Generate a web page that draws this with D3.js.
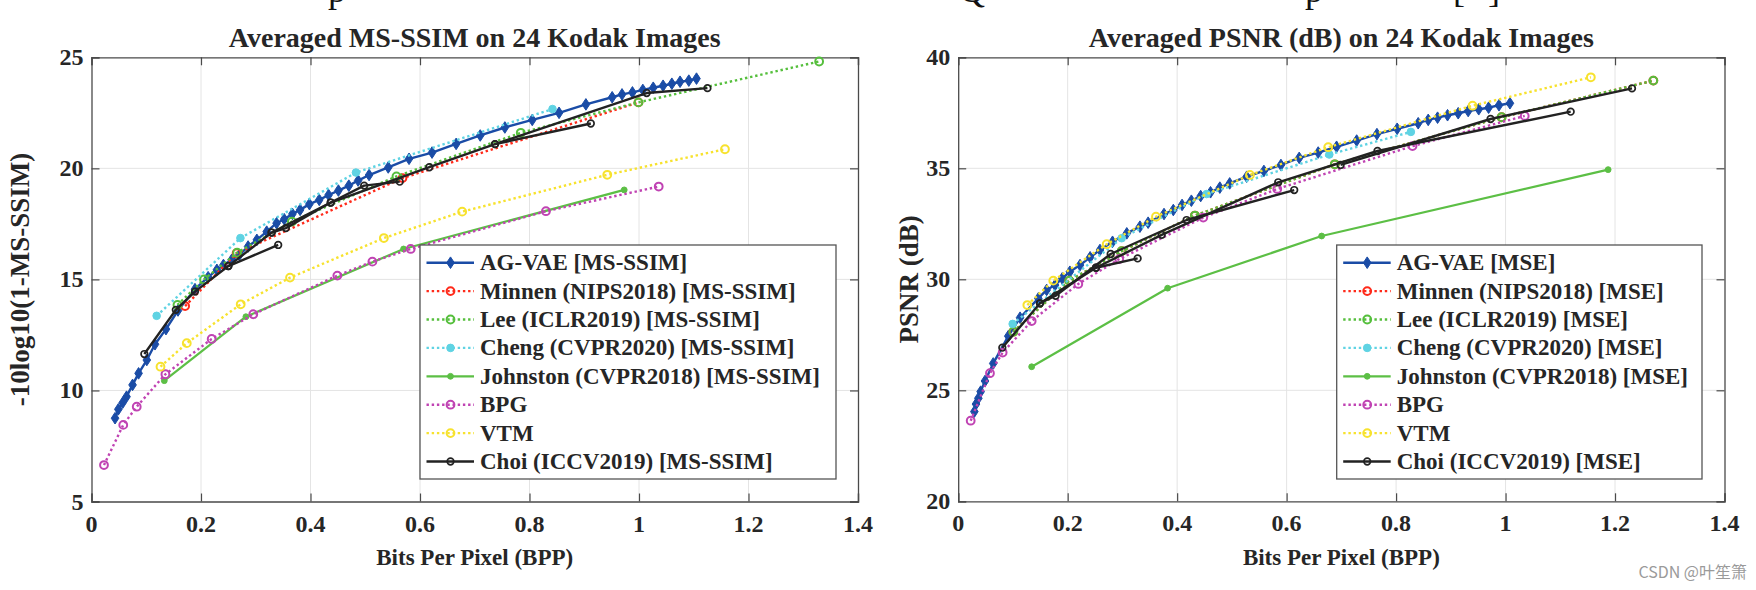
<!DOCTYPE html>
<html><head><meta charset="utf-8">
<script src="https://cdn.jsdelivr.net/npm/d3@7"></script>
<style>body{margin:0;background:#fff}svg{display:block}</style>
</head><body>
<svg id="c" width="1756" height="590"></svg>
<script>
// ---------- data ----------
const bppTicks = [0, 0.2, 0.4, 0.6, 0.8, 1, 1.2, 1.4];
const ssimTicks = [5, 10, 15, 20, 25];
const psnrTicks = [20, 25, 30, 35, 40];

const ssimLabels = ["AG-VAE [MS-SSIM]", "Minnen (NIPS2018) [MS-SSIM]", "Lee (ICLR2019) [MS-SSIM]",
  "Cheng (CVPR2020) [MS-SSIM]", "Johnston (CVPR2018) [MS-SSIM]", "BPG", "VTM", "Choi (ICCV2019) [MS-SSIM]"];
const mseLabels = ["AG-VAE [MSE]", "Minnen (NIPS2018) [MSE]", "Lee (ICLR2019) [MSE]",
  "Cheng (CVPR2020) [MSE]", "Johnston (CVPR2018) [MSE]", "BPG", "VTM", "Choi (ICCV2019) [MSE]"];

// cropped caption line at the very top (only descenders visible)
const topGlyphs = [["p", 337], ["Q", 972], ["p", 1314], ["[", 1459], ["]", 1494]];

// MS-SSIM panel (bpp, -10log10(1-MS-SSIM))
const agvaeSsim = [[0.043,8.75],[0.049,9.15],[0.057,9.45],[0.064,9.72],[0.075,10.25],[0.086,10.77],[0.101,11.37],[0.116,12.08],[0.136,12.76],[0.158,13.6],[0.189,14.56],[0.213,15.1],[0.229,15.43],[0.241,15.65],[0.256,15.88],[0.27,16.1],[0.286,16.48],[0.302,16.78],[0.32,17.15],[0.338,17.53],[0.352,17.71],[0.367,17.95],[0.381,18.13],[0.398,18.39],[0.416,18.58],[0.433,18.8],[0.451,19.0],[0.47,19.22],[0.487,19.45],[0.507,19.7],[0.542,20.04],[0.58,20.43],[0.622,20.71],[0.666,21.1],[0.71,21.48],[0.755,21.84],[0.805,22.18],[0.854,22.5],[0.903,22.88],[0.951,23.2],[0.969,23.33],[0.988,23.42],[1.007,23.53],[1.026,23.63],[1.044,23.72],[1.06,23.81],[1.075,23.9],[1.091,23.95],[1.105,24.04]];
const minnenSsim = [[0.171,13.8],[0.265,16.18],[0.568,19.56],[0.999,22.97]];
const leeSsim = [[0.157,13.85],[0.2055,15.0],[0.266,16.2],[0.366,17.6],[0.557,19.64],[0.784,21.6],[0.999,22.97],[1.329,24.81]];
const chengSsim = [[0.119,13.36],[0.272,16.86],[0.483,19.81],[0.842,22.67]];
const johnstonSsim = [[0.133,10.44],[0.282,13.32],[0.57,16.37],[0.973,19.03]];
const bpgSsim = [[0.0228,6.64],[0.058,8.45],[0.0826,9.27],[0.135,10.73],[0.2195,12.32],[0.2955,13.43],[0.449,15.17],[0.513,15.8],[0.583,16.37],[0.83,18.07],[1.036,19.18]];
const vtmSsim = [[0.126,11.07],[0.174,12.13],[0.2725,13.88],[0.3626,15.08],[0.534,16.86],[0.677,18.05],[0.942,19.71],[1.157,20.86]];
const choiSsim = [
  [[0.0965,11.64],[0.154,13.63],[0.189,14.45],[0.25,15.6],[0.341,16.55]],
  [[0.25,15.6],[0.329,17.11],[0.437,18.46],[0.498,19.22],[0.563,19.4]],
  [[0.329,17.11],[0.355,17.31],[0.437,18.46],[0.617,20.05],[0.737,21.09],[0.912,22.02]],
  [[0.737,21.09],[1.014,23.39],[1.125,23.61]]
];

// PSNR panel (bpp, dB)
const agvaePsnr = [[0.0295,24.04],[0.0325,24.38],[0.0368,24.64],[0.041,24.94],[0.049,25.42],[0.064,26.21],[0.0915,27.44],[0.113,28.27],[0.1464,29.14],[0.1616,29.52],[0.1768,29.74],[0.19,30.04],[0.204,30.34],[0.2225,30.64],[0.241,30.99],[0.259,31.32],[0.282,31.69],[0.308,32.07],[0.332,32.37],[0.347,32.55],[0.376,32.94],[0.393,33.12],[0.409,33.35],[0.426,33.54],[0.443,33.75],[0.461,33.92],[0.478,34.13],[0.496,34.32],[0.527,34.62],[0.5585,34.88],[0.5896,35.15],[0.623,35.47],[0.6577,35.71],[0.6913,35.97],[0.728,36.25],[0.765,36.54],[0.802,36.78],[0.8404,37.03],[0.8587,37.18],[0.8758,37.28],[0.894,37.39],[0.9135,37.48],[0.9317,37.58],[0.951,37.66],[0.969,37.73],[0.988,37.84],[1.008,37.93]];
const minnenPsnr = [[0.1007,27.64],[0.2029,29.94],[0.2986,31.27],[0.4325,32.87],[0.688,35.18],[0.9927,37.3],[1.27,38.95]];
const leePsnr = [[0.1007,27.64],[0.2029,29.94],[0.2986,31.27],[0.4325,32.87],[0.688,35.18],[0.9927,37.3],[1.27,38.95]];
const chengPsnr = [[0.0995,27.99],[0.2986,31.85],[0.4539,33.84],[0.678,35.62],[0.827,36.64]];
const johnstonPsnr = [[0.1342,26.06],[0.3826,29.6],[0.664,31.95],[1.1874,34.94]];
const bpgPsnr = [[0.0228,23.63],[0.058,25.77],[0.0812,26.7],[0.1342,28.12],[0.2194,29.79],[0.2943,30.91],[0.4477,32.78],[0.5829,34.07],[0.83,36.0],[1.035,37.36]];
const vtmPsnr = [[0.1263,28.84],[0.1737,29.94],[0.2713,31.58],[0.3613,32.82],[0.533,34.7],[0.676,35.95],[0.9397,37.82],[1.1558,39.1]];
const choiPsnr = [
  [[0.0806,26.92],[0.1494,28.92],[0.2517,30.52],[0.3278,30.94]],
  [[0.1494,28.92],[0.178,29.26],[0.2786,31.14],[0.4173,32.67],[0.6139,34.02]],
  [[0.2517,30.52],[0.3717,32.0],[0.5847,34.37],[0.766,35.78],[1.119,37.55]],
  [[0.6986,35.15],[0.9726,37.22],[1.231,38.6]]
];

// ---------- styles ----------
const FONT = '"Liberation Serif","Times New Roman",serif';
const TXT = '#262626';
const styles = [
  {color:'#1a4ca6', dash:null, w:2.4, marker:'diamond'},
  {color:'#ff2a1a', dash:'2.4,2.8', w:2.4, marker:'ocircle'},
  {color:'#55bf3c', dash:'2.4,2.8', w:2.4, marker:'ocircle'},
  {color:'#5fd3e3', dash:'2.4,2.8', w:2.4, marker:'fcircle'},
  {color:'#5cbf45', dash:null, w:2.2, marker:'dot'},
  {color:'#c043b3', dash:'2.4,2.8', w:2.4, marker:'ocircle'},
  {color:'#f7e22e', dash:'2.4,2.8', w:2.4, marker:'ocircle'},
  {color:'#222222', dash:null, w:2.4, marker:'scircle'}
];

const svg = d3.select('#c');

function drawMarker(g, m, color, x, y) {
  if (m === 'diamond') {
    g.append('path').attr('d', `M${x},${y-5.8}L${x+3.8},${y}L${x},${y+5.8}L${x-3.8},${y}Z`)
      .attr('fill', color).attr('stroke', color).attr('stroke-width', 1);
  } else if (m === 'ocircle') {
    g.append('circle').attr('cx', x).attr('cy', y).attr('r', 3.9)
      .attr('fill', 'none').attr('stroke', color).attr('stroke-width', 2);
  } else if (m === 'scircle') {
    g.append('circle').attr('cx', x).attr('cy', y).attr('r', 3.3)
      .attr('fill', 'none').attr('stroke', color).attr('stroke-width', 1.7);
  } else if (m === 'fcircle') {
    g.append('circle').attr('cx', x).attr('cy', y).attr('r', 3.8)
      .attr('fill', color).attr('stroke', color).attr('stroke-width', 1);
  } else if (m === 'dot') {
    g.append('circle').attr('cx', x).attr('cy', y).attr('r', 2.9)
      .attr('fill', color).attr('stroke', color).attr('stroke-width', 1);
  }
}

function txt(sel, size) {
  return sel.attr('font-family', FONT).attr('font-weight', 'bold').attr('font-size', size).attr('fill', TXT);
}

function panel(cfg) {
  const x = d3.scaleLinear().domain([0, 1.4]).range([cfg.x0, cfg.x1]);
  const y = d3.scaleLinear().domain(cfg.yDomain).range([cfg.yBot, cfg.yTop]);
  const g = svg.append('g');

  // grid
  g.append('g').selectAll('line').data(bppTicks.slice(1, -1)).join('line')
    .attr('x1', d => x(d)).attr('x2', d => x(d)).attr('y1', cfg.yTop).attr('y2', cfg.yBot)
    .attr('stroke', '#e4e4e4').attr('stroke-width', 1);
  g.append('g').selectAll('line').data(cfg.yTicks.slice(1, -1)).join('line')
    .attr('y1', d => y(d)).attr('y2', d => y(d)).attr('x1', cfg.x0).attr('x2', cfg.x1)
    .attr('stroke', '#e4e4e4').attr('stroke-width', 1);

  // axes (box with inward ticks)
  const axB = d3.axisBottom(x).tickValues(bppTicks).tickSize(-8).tickFormat('');
  const axT = d3.axisTop(x).tickValues(bppTicks).tickSize(-8).tickFormat('');
  const axL = d3.axisLeft(y).tickValues(cfg.yTicks).tickSize(-8).tickFormat('');
  const axR = d3.axisRight(y).tickValues(cfg.yTicks).tickSize(-8).tickFormat('');
  const styleAx = sel => {
    sel.selectAll('path').attr('stroke', '#4a4a4a').attr('stroke-width', 1.3);
    sel.selectAll('line').attr('stroke', '#4a4a4a').attr('stroke-width', 1.2);
  };
  g.append('g').attr('transform', `translate(0,${cfg.yBot})`).call(axB).call(styleAx);
  g.append('g').attr('transform', `translate(0,${cfg.yTop})`).call(axT).call(styleAx);
  g.append('g').attr('transform', `translate(${cfg.x0},0)`).call(axL).call(styleAx);
  g.append('g').attr('transform', `translate(${cfg.x1},0)`).call(axR).call(styleAx);

  // tick labels
  txt(g.append('g').selectAll('text').data(bppTicks).join('text'), 24)
    .attr('x', d => x(d)).attr('y', cfg.yBot + 30).attr('text-anchor', 'middle')
    .text(d3.format('~g'));
  txt(g.append('g').selectAll('text').data(cfg.yTicks).join('text'), 24)
    .attr('x', cfg.x0 - 8).attr('y', d => y(d) + 8).attr('text-anchor', 'end')
    .text(d3.format('d'));

  // series
  const line = d3.line().x(d => x(d[0])).y(d => y(d[1]));
  cfg.series.forEach((s, i) => {
    const st = styles[i];
    const segs = i === 7 ? s : [s];
    const sg = g.append('g');
    segs.forEach(seg => {
      sg.append('path').attr('d', line(seg)).attr('fill', 'none')
        .attr('stroke', st.color).attr('stroke-width', st.w)
        .attr('stroke-dasharray', st.dash).attr('stroke-linejoin', 'round');
      seg.forEach(p => drawMarker(sg, st.marker, st.color, x(p[0]), y(p[1])));
    });
  });

  // title and labels
  txt(svg.append('text'), 28).attr('x', (cfg.x0 + cfg.x1) / 2).attr('y', 47).attr('text-anchor', 'middle')
    .text(cfg.title);
  txt(svg.append('text'), 23).attr('x', (cfg.x0 + cfg.x1) / 2).attr('y', 565).attr('text-anchor', 'middle')
    .text('Bits Per Pixel (BPP)');
  txt(svg.append('text'), 27).attr('transform', `translate(${cfg.ylabX},${(cfg.yTop + cfg.yBot) / 2}) rotate(-90)`)
    .attr('text-anchor', 'middle').attr('dominant-baseline', 'central')
    .text(cfg.ylabel);

  // legend
  const L = cfg.legend;
  const lg = svg.append('g');
  lg.append('rect').attr('x', L.x).attr('y', L.y).attr('width', L.w).attr('height', L.h)
    .attr('fill', '#fff').attr('stroke', '#555').attr('stroke-width', 1.3);
  cfg.labels.forEach((lab, i) => {
    const st = styles[i];
    const yy = L.y + 17.7 + i * 28.4;
    lg.append('line').attr('x1', L.x + 6.5).attr('x2', L.x + 54).attr('y1', yy).attr('y2', yy)
      .attr('stroke', st.color).attr('stroke-width', st.w).attr('stroke-dasharray', st.dash);
    drawMarker(lg, st.marker, st.color, L.x + 30.5, yy);
    txt(lg.append('text'), 23).attr('x', L.x + 60).attr('y', yy).attr('dominant-baseline', 'central')
      .text(lab);
  });
}

panel({
  x0: 91.5, x1: 858, yTop: 57.3, yBot: 501.5, yDomain: [5, 25], yTicks: ssimTicks,
  title: 'Averaged MS-SSIM on 24 Kodak Images', ylabel: '-10log10(1-MS-SSIM)', ylabX: 20,
  series: [agvaeSsim, minnenSsim, leeSsim, chengSsim, johnstonSsim, bpgSsim, vtmSsim, choiSsim],
  labels: ssimLabels,
  legend: {x: 420, y: 245, w: 416, h: 234}
});
panel({
  x0: 958.2, x1: 1724.5, yTop: 57.3, yBot: 501.3, yDomain: [20, 40], yTicks: psnrTicks,
  title: 'Averaged PSNR (dB) on 24 Kodak Images', ylabel: 'PSNR (dB)', ylabX: 909,
  series: [agvaePsnr, minnenPsnr, leePsnr, chengPsnr, johnstonPsnr, bpgPsnr, vtmPsnr, choiPsnr],
  labels: mseLabels,
  legend: {x: 1336.7, y: 245, w: 365.3, h: 234}
});

// cropped caption fragments
svg.append('g').selectAll('text').data(topGlyphs).join('text')
  .attr('x', d => d[1]).attr('y', 1.5).attr('text-anchor', 'middle')
  .attr('font-family', FONT).attr('font-size', 36).attr('fill', '#111')
  .text(d => d[0]);

// watermark
svg.append('text').attr('x', 1747).attr('y', 578).attr('text-anchor', 'end')
  .attr('font-family', '"Noto Sans CJK SC","Noto Sans",sans-serif').attr('font-size', 16)
  .attr('fill', '#9a9a9a').text('CSDN @叶笙箫');
</script>
</body></html>
